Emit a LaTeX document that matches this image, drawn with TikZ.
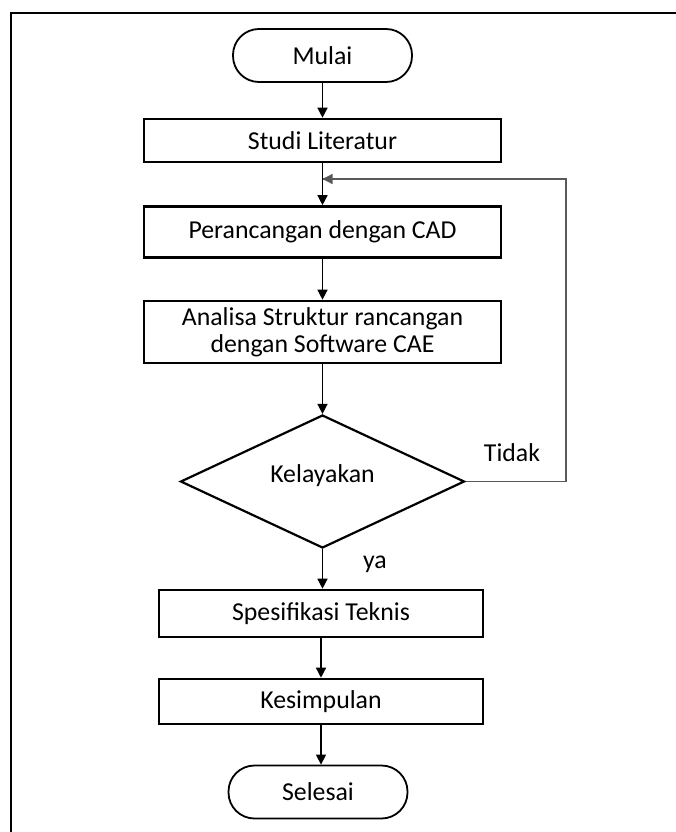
\documentclass[tikz,border=0pt]{standalone}
\usepackage{fontspec}
\setmainfont{Carlito}
\usepackage{tikz}
\usetikzlibrary{arrows.meta,shapes.geometric,calc}
\tikzstyle{term}=[rectangle,rounded corners=26pt,draw=black,line width=1.8pt,
  minimum width=179pt,minimum height=53pt,inner sep=0pt]
\tikzstyle{proc}=[rectangle,draw=black,line width=2.6pt,align=center,
  minimum width=357pt,minimum height=43pt,inner sep=0pt]
\tikzstyle{dec}=[diamond,draw=black,line width=2.2pt,
  minimum width=284pt,minimum height=133pt,inner sep=0pt]
\tikzstyle{none}=[]
\tikzstyle{arr}=[line width=1.4pt,-{Triangle[width=10pt,length=10pt]}]
\tikzstyle{back}=[draw=black!65,line width=1.3pt]

\begin{document}
\begin{tikzpicture}[x=1pt,y=-1pt,font=\fontsize{25.8}{30}\selectfont]
            \useasboundingbox (0,0) rectangle (676,832);
            \draw [line width=2pt] (690,13) -- (11,13) -- (11,845);
            \node [style=term] (0) at (322.5, 55.5) {Mulai};
            \node [style=proc] (1) at (322.5, 140.5) {Studi Literatur};
            \node [style=proc, minimum height=51pt] (2) at (322.5, 232) {Perancangan dengan CAD};
            \node [style=proc, minimum height=62pt] (3) at (322.5, 332) {Analisa Struktur rancangan\\[-3pt]dengan Software CAE};
            \node [style=dec] (4) at (322.5, 481.5) {};
            \node [style=none] (5) at (322.5, 476) {Kelayakan};
            \node [style=proc, minimum width=324pt, minimum height=47pt] (6) at (321, 613.5) {Spesifikasi Teknis};
            \node [style=proc, minimum width=324pt, minimum height=45pt] (7) at (321, 701.5) {Kesimpulan};
            \node [style=term] (8) at (318, 792) {Selesai};
            \node [style=none] (9) at (512, 453) {Tidak};
            \node [style=none] (10) at (375, 564) {ya};
            \coordinate (11) at (566, 481.5);
            \coordinate (12) at (566, 179);
            \coordinate (13) at (322.5, 179);
            \draw [style=arr] (0) to (1);
            \draw [style=arr] (1) to (2);
            \draw [style=arr] (2) to (3);
            \draw [style=arr] (3) to (4);
            \draw [style=arr] (4) to (4 |- 6.north);
            \draw [style=arr] (6) to (7);
            \draw [style=arr] (7) to (7 |- 8.north);
            \draw [style=back] (4.east) to (11) to (12) to (13);
            \draw [style=arr, line width=1.3pt, draw=black!65] (12) to (13);
    \end{tikzpicture}
\end{document}
